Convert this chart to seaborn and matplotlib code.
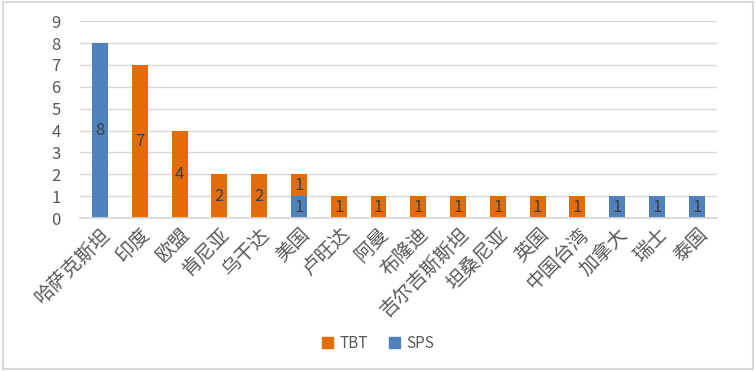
import matplotlib
matplotlib.use("Agg")
import matplotlib.pyplot as plt
import seaborn as sns
import pandas as pd
import numpy as np
from matplotlib.patches import Rectangle

categories = ["哈萨克斯坦", "印度", "欧盟", "肯尼亚", "乌干达", "美国", "卢旺达", "阿曼", "布隆迪",
              "吉尔吉斯斯坦", "坦桑尼亚", "英国", "中国台湾", "加拿大", "瑞士", "泰国"]
sps = [8, 0, 0, 0, 0, 1, 0, 0, 0, 0, 0, 0, 0, 1, 1, 1]
tbt = [0, 7, 4, 2, 2, 1, 1, 1, 1, 1, 1, 1, 1, 0, 0, 0]
yticks = list(range(0, 10))

BLUE = "#4F81BD"
ORANGE = "#E36C09"

sns.set_theme(style="white")
plt.rcParams["font.family"] = ["Noto Sans CJK SC", "DejaVu Sans"]

df = pd.DataFrame({"cat": categories, "SPS": sps, "TBT": tbt})

fig = plt.figure(figsize=(7.56, 3.71), dpi=100)
ax = fig.add_axes([0.106, 0.412, 0.842, 0.531])

sns.barplot(data=df, x="cat", y="SPS", color=BLUE, width=0.4, saturation=1, ax=ax,
            linewidth=0, label="SPS", legend=False)
sns.barplot(data=df, x="cat", y="TBT", color=ORANGE, width=0.4, saturation=1, ax=ax,
            linewidth=0, bottom=np.array(sps), label="TBT", legend=False)

conts = ax.containers
for cont, vals in zip(conts, [sps, tbt]):
    ax.bar_label(cont, labels=[str(v) if v > 0 else "" for v in vals], label_type="center",
                 fontsize=12, color="#404040")

ax.set_ylim(0, 9)
ax.set_xlim(-0.5, len(categories) - 0.5)
ax.set_yticks(yticks)
ax.yaxis.grid(True, color="#D9D9D9", linewidth=1)
ax.set_axisbelow(True)
for s in ["left", "right", "top"]:
    ax.spines[s].set_visible(False)
ax.spines["bottom"].set_color("#D9D9D9")
ax.tick_params(axis="both", length=0, colors="#595959")
ax.tick_params(axis="y", pad=14, labelsize=12)
ax.tick_params(axis="x", pad=4, labelsize=14)
ax.set_xlabel("")
ax.set_ylabel("")
if ax.get_legend() is not None:
    ax.get_legend().remove()
plt.setp(ax.get_xticklabels(), rotation=45, ha="right", rotation_mode="anchor")

handles = [Rectangle((0, 0), 1, 1, color=ORANGE), Rectangle((0, 0), 1, 1, color=BLUE)]
fig.legend(handles, ["TBT", "SPS"], loc="center",
           bbox_to_anchor=(0.5, 0.075), ncol=2, frameon=False, fontsize=11,
           handlelength=0.7, handleheight=0.7, handletextpad=0.4, columnspacing=1.4,
           labelcolor="#595959")

fig.patches.append(Rectangle((0.004, 0.006), 0.992, 0.988, transform=fig.transFigure,
                             fill=False, edgecolor="#D9D9D9", linewidth=1.5))

fig.savefig("out.png", dpi=100)
